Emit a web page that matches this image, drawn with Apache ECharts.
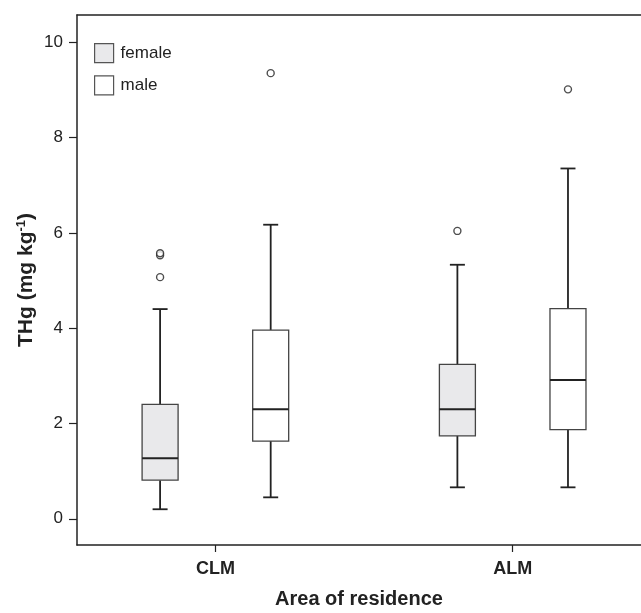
<!DOCTYPE html>
<html>
<head>
<meta charset="utf-8">
<script src="https://cdn.jsdelivr.net/npm/echarts@6/dist/echarts.min.js"></script>
<style>
  html, body { margin: 0; padding: 0; background: #fff; }
  #chart { width: 641px; height: 613px; }
</style>
</head>
<body>
<div id="chart"></div>
<script>
// 区域分类
const groups = ['CLM', 'ALM']
// 箱线统计: [min, Q1, median, Q3, max]
const femaleStats = [
  [0.20, 0.81, 1.27, 2.40, 4.40],
  [0.66, 1.74, 2.30, 3.24, 5.33]
]
const maleStats = [
  [0.45, 1.63, 2.30, 3.96, 6.17],
  [0.66, 1.87, 2.91, 4.41, 7.35]
]
// 异常值: [组序号, 数值]
const femaleOutliers = [[0, 5.53], [0, 5.57], [0, 5.07], [1, 6.04]]
const maleOutliers = [[0, 9.35], [1, 9.01]]
const yTicks = [0, 2, 4, 6, 8, 10]

const FONT = "'Liberation Sans', Arial, sans-serif"
const INK = '#222'
const FEMALE_FILL = '#e9e9eb'
const MALE_FILL = '#ffffff'
const SHIFT = 0.186

// 绘制单个箱体
const makeRenderer = (fill) => (params, api) => {
  const x = api.value(0)
  const pMin = api.coord([x, api.value(1)])
  const pQ1 = api.coord([x, api.value(2)])
  const pMed = api.coord([x, api.value(3)])
  const pQ3 = api.coord([x, api.value(4)])
  const pMax = api.coord([x, api.value(5)])
  const cx = pMed[0]
  const hw = 18
  const cw = 7.5
  const line = (x1, y1, x2, y2, w) => ({
    type: 'line',
    shape: { x1, y1, x2, y2 },
    style: { stroke: INK, lineWidth: w }
  })
  return {
    type: 'group',
    children: [
      line(cx, pQ3[1], cx, pMax[1], 1.8),
      line(cx, pQ1[1], cx, pMin[1], 1.8),
      line(cx - cw, pMax[1], cx + cw, pMax[1], 1.8),
      line(cx - cw, pMin[1], cx + cw, pMin[1], 1.8),
      {
        type: 'rect',
        shape: { x: cx - hw, y: pQ3[1], width: hw * 2, height: pQ1[1] - pQ3[1] },
        style: { fill: fill, stroke: '#444', lineWidth: 1.3 }
      },
      line(cx - hw, pMed[1], cx + hw, pMed[1], 2)
    ]
  }
}

const boxData = (stats, shift) => stats.map((s, i) => [i + shift].concat(s))
const outlierData = (list, shift) => list.map(([g, v]) => [g + shift, v])

const chart = echarts.init(document.getElementById('chart'))
chart.setOption({
  animation: false,
  textStyle: { fontFamily: FONT },
  grid: { left: 77, right: 0, top: 15, bottom: 68, outerBoundsMode: 'none', containLabel: false },
  legend: {
    orient: 'vertical',
    left: 94,
    top: 43,
    padding: 0,
    itemWidth: 19,
    itemHeight: 19,
    itemGap: 12,
    icon: 'rect',
    selectedMode: false,
    textStyle: { fontSize: 17, color: INK, fontFamily: FONT, padding: [0, 0, 0, 2] },
    data: [
      { name: 'female', itemStyle: { color: FEMALE_FILL, borderColor: '#555', borderWidth: 1.2 } },
      { name: 'male', itemStyle: { color: MALE_FILL, borderColor: '#555', borderWidth: 1.2 } }
    ]
  },
  xAxis: [
    {
      type: 'value',
      min: -0.4655,
      max: 1.4316,
      name: 'Area of residence',
      nameLocation: 'middle',
      nameGap: 44,
      nameTextStyle: { fontSize: 20, fontWeight: 'bold', color: INK, fontFamily: FONT },
      axisLine: { onZero: false, lineStyle: { color: INK, width: 1.5 } },
      axisTick: { customValues: [0, 1], length: 7, lineStyle: { color: INK, width: 1.2 } },
      axisLabel: {
        customValues: [0, 1],
        formatter: (v) => groups[Math.round(v)],
        margin: 15,
        fontSize: 18,
        fontWeight: 'bold',
        color: INK,
        fontFamily: FONT
      },
      splitLine: { show: false }
    },
    {
      type: 'value',
      position: 'top',
      min: -0.4655,
      max: 1.4316,
      axisLine: { show: true, onZero: false, lineStyle: { color: INK, width: 1.5 } },
      axisTick: { show: false },
      axisLabel: { show: false },
      splitLine: { show: false }
    }
  ],
  yAxis: {
    type: 'value',
    min: -0.55,
    max: 10.57,
    name: '{n|THg (mg kg}{s|-1}{n|)}',
    nameLocation: 'middle',
    nameGap: 40,
    nameRotate: 90,
    nameMoveOverlap: false,
    nameTextStyle: {
      rich: {
        n: { fontSize: 21, fontWeight: 'bold', color: INK, fontFamily: FONT, lineHeight: 22 },
        s: { fontSize: 13, fontWeight: 'bold', color: INK, fontFamily: FONT, verticalAlign: 'top', lineHeight: 14 }
      }
    },
    axisLine: { show: true, onZero: false, lineStyle: { color: INK, width: 1.5 } },
    axisTick: { show: true, customValues: yTicks, length: 8, lineStyle: { color: INK, width: 1.2 } },
    axisLabel: { customValues: yTicks, margin: 14, fontSize: 17, color: INK, fontFamily: FONT },
    splitLine: { show: false }
  },
  series: [
    {
      name: 'female',
      type: 'custom',
      itemStyle: { color: FEMALE_FILL },
      renderItem: makeRenderer(FEMALE_FILL),
      encode: { x: 0, y: [1, 2, 3, 4, 5] },
      data: boxData(femaleStats, -SHIFT)
    },
    {
      name: 'male',
      type: 'custom',
      itemStyle: { color: MALE_FILL },
      renderItem: makeRenderer(MALE_FILL),
      encode: { x: 0, y: [1, 2, 3, 4, 5] },
      data: boxData(maleStats, SHIFT)
    },
    {
      name: 'female outliers',
      type: 'scatter',
      symbol: 'circle',
      symbolSize: 7,
      itemStyle: { color: '#fff', borderColor: INK, borderWidth: 1.4 },
      data: outlierData(femaleOutliers, -SHIFT)
    },
    {
      name: 'male outliers',
      type: 'scatter',
      symbol: 'circle',
      symbolSize: 7,
      itemStyle: { color: '#fff', borderColor: INK, borderWidth: 1.4 },
      data: outlierData(maleOutliers, SHIFT)
    }
  ]
})
</script>
</body>
</html>
